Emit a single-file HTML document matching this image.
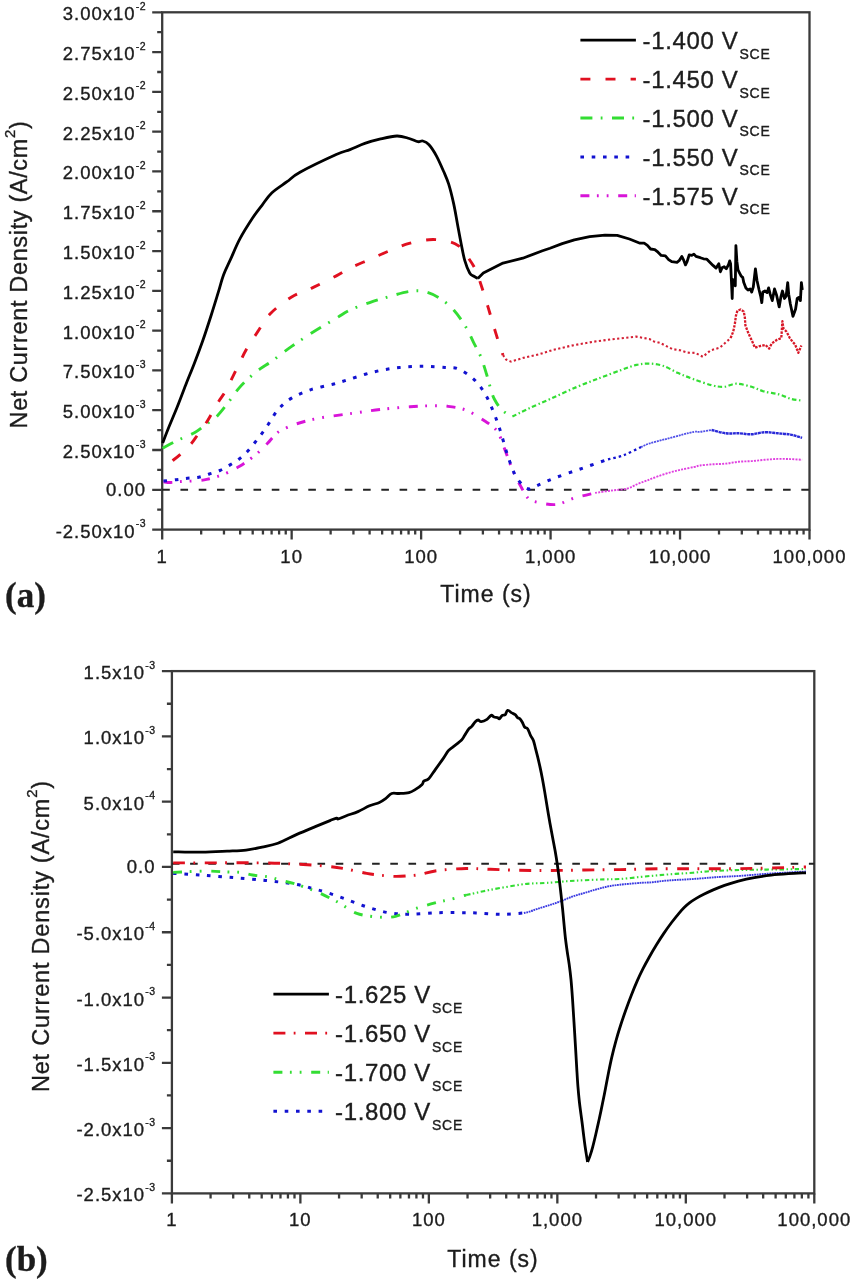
<!DOCTYPE html>
<html><head><meta charset="utf-8"><style>
html,body{margin:0;padding:0;background:#fff;}
svg{display:block;will-change:transform;}
text{font-family:"Liberation Sans", sans-serif;fill:#1c1c1c;stroke:#1c1c1c;stroke-width:0.35px;}
</style></head><body>
<svg width="851" height="1280" viewBox="0 0 851 1280">
<rect width="851" height="1280" fill="#fff"/>
<rect x="162.20" y="12.30" width="647.30" height="517.30" fill="none" stroke="#3a3a3a" stroke-width="2.3"/>
<path d="M152.20 12.30H162.20 M152.20 52.09H162.20 M152.20 91.88H162.20 M152.20 131.68H162.20 M152.20 171.47H162.20 M152.20 211.26H162.20 M152.20 251.05H162.20 M152.20 290.85H162.20 M152.20 330.64H162.20 M152.20 370.43H162.20 M152.20 410.22H162.20 M152.20 450.02H162.20 M152.20 489.81H162.20 M152.20 529.60H162.20 M157.20 32.20H162.20 M157.20 71.99H162.20 M157.20 111.78H162.20 M157.20 151.57H162.20 M157.20 191.37H162.20 M157.20 231.16H162.20 M157.20 270.95H162.20 M157.20 310.74H162.20 M157.20 350.53H162.20 M157.20 390.33H162.20 M157.20 430.12H162.20 M157.20 469.91H162.20 M157.20 509.70H162.20 M162.20 529.60V539.60 M201.17 529.60V534.60 M223.97 529.60V534.60 M240.14 529.60V534.60 M252.69 529.60V534.60 M262.94 529.60V534.60 M271.61 529.60V534.60 M279.11 529.60V534.60 M285.74 529.60V534.60 M291.66 529.60V539.60 M330.63 529.60V534.60 M353.43 529.60V534.60 M369.60 529.60V534.60 M382.15 529.60V534.60 M392.40 529.60V534.60 M401.07 529.60V534.60 M408.57 529.60V534.60 M415.20 529.60V534.60 M421.12 529.60V539.60 M460.09 529.60V534.60 M482.89 529.60V534.60 M499.06 529.60V534.60 M511.61 529.60V534.60 M521.86 529.60V534.60 M530.53 529.60V534.60 M538.03 529.60V534.60 M544.66 529.60V534.60 M550.58 529.60V539.60 M589.55 529.60V534.60 M612.35 529.60V534.60 M628.52 529.60V534.60 M641.07 529.60V534.60 M651.32 529.60V534.60 M659.99 529.60V534.60 M667.49 529.60V534.60 M674.12 529.60V534.60 M680.04 529.60V539.60 M719.01 529.60V534.60 M741.81 529.60V534.60 M757.98 529.60V534.60 M770.53 529.60V534.60 M780.78 529.60V534.60 M789.45 529.60V534.60 M796.95 529.60V534.60 M803.58 529.60V534.60 M809.50 529.60V539.60" stroke="#3a3a3a" stroke-width="2.3" fill="none"/>
<text x="162.20" y="562.5" text-anchor="middle" font-size="18.5" letter-spacing="1.0">1</text>
<text x="291.66" y="562.5" text-anchor="middle" font-size="18.5" letter-spacing="1.0">10</text>
<text x="421.12" y="562.5" text-anchor="middle" font-size="18.5" letter-spacing="1.0">100</text>
<text x="550.58" y="562.5" text-anchor="middle" font-size="18.5" letter-spacing="1.0">1,000</text>
<text x="680.04" y="562.5" text-anchor="middle" font-size="18.5" letter-spacing="1.0">10,000</text>
<text x="809.50" y="562.5" text-anchor="middle" font-size="18.5" letter-spacing="1.0">100,000</text>
<text x="146" y="20.30" text-anchor="end" font-size="18.5" letter-spacing="1.0">3.00x10<tspan font-size="10.5" dy="-10.5" letter-spacing="0.5">-2</tspan></text>
<text x="146" y="60.09" text-anchor="end" font-size="18.5" letter-spacing="1.0">2.75x10<tspan font-size="10.5" dy="-10.5" letter-spacing="0.5">-2</tspan></text>
<text x="146" y="99.88" text-anchor="end" font-size="18.5" letter-spacing="1.0">2.50x10<tspan font-size="10.5" dy="-10.5" letter-spacing="0.5">-2</tspan></text>
<text x="146" y="139.68" text-anchor="end" font-size="18.5" letter-spacing="1.0">2.25x10<tspan font-size="10.5" dy="-10.5" letter-spacing="0.5">-2</tspan></text>
<text x="146" y="179.47" text-anchor="end" font-size="18.5" letter-spacing="1.0">2.00x10<tspan font-size="10.5" dy="-10.5" letter-spacing="0.5">-2</tspan></text>
<text x="146" y="219.26" text-anchor="end" font-size="18.5" letter-spacing="1.0">1.75x10<tspan font-size="10.5" dy="-10.5" letter-spacing="0.5">-2</tspan></text>
<text x="146" y="259.05" text-anchor="end" font-size="18.5" letter-spacing="1.0">1.50x10<tspan font-size="10.5" dy="-10.5" letter-spacing="0.5">-2</tspan></text>
<text x="146" y="298.85" text-anchor="end" font-size="18.5" letter-spacing="1.0">1.25x10<tspan font-size="10.5" dy="-10.5" letter-spacing="0.5">-2</tspan></text>
<text x="146" y="338.64" text-anchor="end" font-size="18.5" letter-spacing="1.0">1.00x10<tspan font-size="10.5" dy="-10.5" letter-spacing="0.5">-2</tspan></text>
<text x="146" y="378.43" text-anchor="end" font-size="18.5" letter-spacing="1.0">7.50x10<tspan font-size="10.5" dy="-10.5" letter-spacing="0.5">-3</tspan></text>
<text x="146" y="418.22" text-anchor="end" font-size="18.5" letter-spacing="1.0">5.00x10<tspan font-size="10.5" dy="-10.5" letter-spacing="0.5">-3</tspan></text>
<text x="146" y="458.02" text-anchor="end" font-size="18.5" letter-spacing="1.0">2.50x10<tspan font-size="10.5" dy="-10.5" letter-spacing="0.5">-3</tspan></text>
<text x="146" y="496.31" text-anchor="end" font-size="18.5" letter-spacing="1.0">0.00</text>
<text x="146" y="537.60" text-anchor="end" font-size="18.5" letter-spacing="1.0">-2.50x10<tspan font-size="10.5" dy="-10.5" letter-spacing="0.5">-3</tspan></text>
<rect x="171.90" y="671.10" width="642.40" height="522.30" fill="none" stroke="#3a3a3a" stroke-width="2.3"/>
<path d="M161.90 671.10H171.90 M161.90 736.39H171.90 M161.90 801.68H171.90 M161.90 866.96H171.90 M161.90 932.25H171.90 M161.90 997.54H171.90 M161.90 1062.83H171.90 M161.90 1128.11H171.90 M161.90 1193.40H171.90 M166.90 703.74H171.90 M166.90 769.03H171.90 M166.90 834.32H171.90 M166.90 899.61H171.90 M166.90 964.89H171.90 M166.90 1030.18H171.90 M166.90 1095.47H171.90 M166.90 1160.76H171.90 M171.90 1193.40V1203.40 M210.58 1193.40V1198.40 M233.20 1193.40V1198.40 M249.25 1193.40V1198.40 M261.70 1193.40V1198.40 M271.88 1193.40V1198.40 M280.48 1193.40V1198.40 M287.93 1193.40V1198.40 M294.50 1193.40V1198.40 M300.38 1193.40V1203.40 M339.06 1193.40V1198.40 M361.68 1193.40V1198.40 M377.73 1193.40V1198.40 M390.18 1193.40V1198.40 M400.36 1193.40V1198.40 M408.96 1193.40V1198.40 M416.41 1193.40V1198.40 M422.98 1193.40V1198.40 M428.86 1193.40V1203.40 M467.54 1193.40V1198.40 M490.16 1193.40V1198.40 M506.21 1193.40V1198.40 M518.66 1193.40V1198.40 M528.84 1193.40V1198.40 M537.44 1193.40V1198.40 M544.89 1193.40V1198.40 M551.46 1193.40V1198.40 M557.34 1193.40V1203.40 M596.02 1193.40V1198.40 M618.64 1193.40V1198.40 M634.69 1193.40V1198.40 M647.14 1193.40V1198.40 M657.32 1193.40V1198.40 M665.92 1193.40V1198.40 M673.37 1193.40V1198.40 M679.94 1193.40V1198.40 M685.82 1193.40V1203.40 M724.50 1193.40V1198.40 M747.12 1193.40V1198.40 M763.17 1193.40V1198.40 M775.62 1193.40V1198.40 M785.80 1193.40V1198.40 M794.40 1193.40V1198.40 M801.85 1193.40V1198.40 M808.42 1193.40V1198.40 M814.30 1193.40V1203.40" stroke="#3a3a3a" stroke-width="2.3" fill="none"/>
<text x="171.90" y="1226.4" text-anchor="middle" font-size="18.5" letter-spacing="1.0">1</text>
<text x="300.38" y="1226.4" text-anchor="middle" font-size="18.5" letter-spacing="1.0">10</text>
<text x="428.86" y="1226.4" text-anchor="middle" font-size="18.5" letter-spacing="1.0">100</text>
<text x="557.34" y="1226.4" text-anchor="middle" font-size="18.5" letter-spacing="1.0">1,000</text>
<text x="685.82" y="1226.4" text-anchor="middle" font-size="18.5" letter-spacing="1.0">10,000</text>
<text x="814.30" y="1226.4" text-anchor="middle" font-size="18.5" letter-spacing="1.0">100,000</text>
<text x="155.5" y="679.10" text-anchor="end" font-size="18.5" letter-spacing="1.0">1.5x10<tspan font-size="10.5" dy="-10.5" letter-spacing="0.5">-3</tspan></text>
<text x="155.5" y="744.39" text-anchor="end" font-size="18.5" letter-spacing="1.0">1.0x10<tspan font-size="10.5" dy="-10.5" letter-spacing="0.5">-3</tspan></text>
<text x="155.5" y="809.68" text-anchor="end" font-size="18.5" letter-spacing="1.0">5.0x10<tspan font-size="10.5" dy="-10.5" letter-spacing="0.5">-4</tspan></text>
<text x="155.5" y="873.46" text-anchor="end" font-size="18.5" letter-spacing="1.0">0.0</text>
<text x="155.5" y="940.25" text-anchor="end" font-size="18.5" letter-spacing="1.0">-5.0x10<tspan font-size="10.5" dy="-10.5" letter-spacing="0.5">-4</tspan></text>
<text x="155.5" y="1005.54" text-anchor="end" font-size="18.5" letter-spacing="1.0">-1.0x10<tspan font-size="10.5" dy="-10.5" letter-spacing="0.5">-3</tspan></text>
<text x="155.5" y="1070.83" text-anchor="end" font-size="18.5" letter-spacing="1.0">-1.5x10<tspan font-size="10.5" dy="-10.5" letter-spacing="0.5">-3</tspan></text>
<text x="155.5" y="1136.11" text-anchor="end" font-size="18.5" letter-spacing="1.0">-2.0x10<tspan font-size="10.5" dy="-10.5" letter-spacing="0.5">-3</tspan></text>
<text x="155.5" y="1201.40" text-anchor="end" font-size="18.5" letter-spacing="1.0">-2.5x10<tspan font-size="10.5" dy="-10.5" letter-spacing="0.5">-3</tspan></text>
<line x1="162.2" y1="489.81" x2="809.5" y2="489.81" stroke="#222" stroke-width="2.1" stroke-dasharray="7.6,10.66"/>
<line x1="171.9" y1="863.70" x2="814.3" y2="863.70" stroke="#222" stroke-width="2.1" stroke-dasharray="7.6,10.6"/>
<path d="M163.50 481.80 C164.67 481.92 167.57 482.55 170.50 482.50 C173.43 482.45 177.68 481.73 181.10 481.50 C184.52 481.27 187.35 481.33 191.00 481.10 C194.65 480.87 200.07 480.45 203.00 480.10 C205.93 479.75 206.02 479.67 208.60 479.00 C211.18 478.33 215.33 477.17 218.50 476.10 C221.67 475.03 224.08 474.23 227.60 472.60 C231.12 470.97 235.72 468.65 239.60 466.30 C243.48 463.95 247.73 460.85 250.90 458.50 C254.07 456.15 255.78 454.78 258.60 452.20 C261.42 449.62 265.33 445.58 267.80 443.00 C270.27 440.42 271.38 438.70 273.40 436.70 C275.42 434.70 276.08 433.13 279.90 431.00 C283.72 428.87 289.65 426.07 296.30 423.90 C302.95 421.73 310.40 419.77 319.80 418.00 C329.20 416.23 342.67 414.72 352.70 413.30 C362.73 411.88 370.45 410.58 380.00 409.50 C389.55 408.42 401.67 407.42 410.00 406.80 C418.33 406.18 423.70 405.88 430.00 405.80 C436.30 405.72 441.82 405.58 447.80 406.30 C453.78 407.02 459.87 407.73 465.90 410.10 C471.93 412.47 478.83 417.05 484.00 420.50 C489.17 423.95 493.47 426.07 496.90 430.80 C500.33 435.53 502.02 442.43 504.60 448.90 C507.18 455.37 509.82 463.57 512.40 469.60 C514.98 475.63 517.52 480.37 520.10 485.10 C522.68 489.83 525.30 495.20 527.90 498.00 C530.50 500.80 530.97 500.82 535.70 501.90 C540.43 502.98 549.85 505.15 556.30 504.50 C562.75 503.85 567.93 499.93 574.40 498.00 C580.87 496.07 591.65 493.75 595.10 492.90" fill="none" stroke="#d814d8" stroke-width="2.9" stroke-dasharray="9,7.5,1.8,8,1.8,9.7" stroke-linecap="butt" stroke-linejoin="round"/>
<path d="M595.10 492.90 C597.88 492.50 606.48 491.20 611.80 490.50 C617.12 489.80 622.70 489.78 627.00 488.70 C631.30 487.62 634.27 485.37 637.60 484.00 C640.93 482.63 643.67 481.77 647.00 480.50 C650.33 479.23 653.68 477.77 657.60 476.40 C661.52 475.03 666.38 473.47 670.50 472.30 C674.62 471.13 678.38 470.28 682.30 469.40 C686.22 468.52 691.05 467.65 694.00 467.00 C696.95 466.35 696.85 465.95 700.00 465.50 C703.15 465.05 708.58 464.62 712.90 464.30 C717.22 463.98 721.58 464.03 725.90 463.60 C730.22 463.17 734.50 462.12 738.80 461.70 C743.10 461.28 747.40 461.42 751.70 461.10 C756.00 460.78 760.28 460.17 764.60 459.80 C768.92 459.43 773.28 459.02 777.60 458.90 C781.92 458.78 786.42 458.95 790.50 459.10 C794.58 459.25 800.17 459.68 802.10 459.80" fill="none" stroke="#e040e0" stroke-width="1.9" stroke-dasharray="2,1.2" stroke-linecap="butt" stroke-linejoin="round"/>
<path d="M163.50 481.10 C165.62 480.87 172.22 480.17 176.20 479.70 C180.18 479.23 183.65 478.70 187.40 478.30 C191.15 477.90 195.05 478.02 198.70 477.30 C202.35 476.58 205.77 475.13 209.30 474.00 C212.83 472.87 216.50 471.98 219.90 470.50 C223.30 469.02 226.53 466.98 229.70 465.10 C232.87 463.22 235.95 461.47 238.90 459.20 C241.85 456.93 244.70 454.32 247.40 451.50 C250.10 448.68 252.63 445.37 255.10 442.30 C257.57 439.23 259.97 436.15 262.20 433.10 C264.43 430.05 266.50 427.05 268.50 424.00 C270.50 420.95 272.30 417.55 274.20 414.80 C276.10 412.05 277.00 410.28 279.90 407.50 C282.80 404.72 286.52 401.05 291.60 398.10 C296.68 395.15 303.35 392.15 310.40 389.80 C317.45 387.45 327.30 385.78 333.90 384.00 C340.50 382.22 343.20 381.15 350.00 379.10 C356.80 377.05 366.47 373.63 374.70 371.70 C382.93 369.77 391.18 368.40 399.40 367.50 C407.62 366.60 416.37 366.30 424.00 366.30 C431.63 366.30 439.52 367.08 445.20 367.50 C450.88 367.92 453.37 366.87 458.10 368.80 C462.83 370.73 469.28 375.23 473.60 379.10 C477.92 382.97 480.98 387.25 484.00 392.00 C487.02 396.75 489.12 401.57 491.70 407.60 C494.28 413.63 496.92 420.45 499.50 428.20 C502.08 435.95 504.62 446.33 507.20 454.10 C509.78 461.87 512.42 469.63 515.00 474.80 C517.58 479.97 520.33 482.73 522.70 485.10 C525.07 487.47 526.62 489.00 529.20 489.00 C531.78 489.00 533.68 487.03 538.20 485.10 C542.72 483.17 548.97 480.20 556.30 477.40 C563.63 474.60 573.58 471.32 582.20 468.30 C590.82 465.28 603.70 460.80 608.00 459.30" fill="none" stroke="#1212d0" stroke-width="3.0" stroke-dasharray="3.6,7.7" stroke-linecap="butt" stroke-linejoin="round"/>
<path d="M608.00 459.30 C610.58 458.63 617.98 457.35 623.50 455.30 C629.02 453.25 638.17 448.38 641.10 447.00" fill="none" stroke="#1212d0" stroke-width="2.3" stroke-dasharray="2.5,3" stroke-linecap="butt" stroke-linejoin="round"/>
<path d="M641.10 447.00 C642.48 446.42 645.48 444.77 649.40 443.50 C653.32 442.23 659.12 440.87 664.60 439.40 C670.08 437.93 677.40 435.97 682.30 434.70 C687.20 433.43 691.05 432.28 694.00 431.80 C696.95 431.32 697.07 432.10 700.00 431.80 C702.93 431.50 709.67 430.30 711.60 430.00" fill="none" stroke="#5050e8" stroke-width="1.8" stroke-dasharray="2,0.8" stroke-linecap="butt" stroke-linejoin="round"/>
<path d="M711.60 430.00 C713.98 430.55 721.37 432.75 725.90 433.30 C730.43 433.85 734.50 433.13 738.80 433.30 C743.10 433.47 747.40 434.48 751.70 434.30 C756.00 434.12 760.28 432.37 764.60 432.20 C768.92 432.03 773.28 432.90 777.60 433.30 C781.92 433.70 786.42 433.85 790.50 434.60 C794.58 435.35 800.17 437.27 802.10 437.80" fill="none" stroke="#2a2ad8" stroke-width="2.4" stroke-dasharray="3,0.6" stroke-linecap="butt" stroke-linejoin="round"/>
<path d="M162.60 448.30 C165.03 447.00 171.90 443.08 177.20 440.50 C182.50 437.92 189.53 435.52 194.40 432.80 C199.27 430.08 202.68 426.92 206.40 424.20 C210.12 421.48 212.98 420.22 216.70 416.50 C220.42 412.78 224.98 406.63 228.70 401.90 C232.42 397.17 235.57 392.12 239.00 388.10 C242.43 384.08 245.85 380.95 249.30 377.80 C252.75 374.65 255.78 372.08 259.70 369.20 C263.62 366.32 267.48 364.30 272.80 360.50 C278.12 356.70 284.93 351.10 291.60 346.40 C298.27 341.70 305.35 337.00 312.80 332.30 C320.25 327.60 330.10 321.92 336.30 318.20 C342.50 314.48 344.43 312.60 350.00 310.00 C355.57 307.40 363.12 304.85 369.70 302.60 C376.28 300.35 382.92 298.35 389.50 296.50 C396.08 294.65 403.45 292.33 409.20 291.50 C414.95 290.67 419.07 290.47 424.00 291.50 C428.93 292.53 433.85 294.62 438.80 297.70 C443.75 300.78 449.17 305.07 453.70 310.00 C458.23 314.93 462.72 321.95 466.00 327.30 C469.28 332.65 470.93 337.17 473.40 342.10 C475.87 347.03 478.62 351.58 480.80 356.90 C482.98 362.22 484.85 368.65 486.50 374.00 C488.15 379.35 489.40 384.83 490.70 389.00 C492.00 393.17 492.42 395.48 494.30 399.00 C496.18 402.52 498.98 407.17 502.00 410.10 C505.02 413.03 510.67 415.52 512.40 416.60" fill="none" stroke="#33dd33" stroke-width="2.9" stroke-dasharray="12,8.3,1.8,9.5" stroke-linecap="butt" stroke-linejoin="round"/>
<path d="M512.40 416.60 C514.98 415.32 521.43 411.92 527.90 408.90 C534.37 405.88 543.02 402.17 551.20 398.50 C559.38 394.83 568.82 390.35 577.00 386.90 C585.18 383.45 592.97 380.60 600.30 377.80 C607.63 375.00 614.97 372.25 621.00 370.10 C627.03 367.95 631.77 365.98 636.50 364.90 C641.23 363.82 644.98 363.45 649.40 363.60 C653.82 363.75 658.18 364.22 663.00 365.80 C667.82 367.38 673.20 370.87 678.30 373.10 C683.40 375.33 688.00 377.17 693.60 379.20 C699.20 381.23 706.80 384.03 711.90 385.30 C717.00 386.57 720.12 387.07 724.20 386.80 C728.28 386.53 731.83 383.70 736.40 383.70 C740.97 383.70 747.02 385.52 751.60 386.80 C756.18 388.08 759.32 390.13 763.90 391.40 C768.48 392.67 774.52 393.13 779.10 394.40 C783.68 395.67 787.57 397.97 791.40 399.00 C795.23 400.03 800.32 400.33 802.10 400.60" fill="none" stroke="#33dd33" stroke-width="2.2" stroke-dasharray="4.5,2.5,1.5,2.5" stroke-linecap="butt" stroke-linejoin="round"/>
<path d="M172.60 460.60 C173.90 459.55 177.35 457.07 180.40 454.30 C183.45 451.53 188.00 447.30 190.90 444.00 C193.80 440.70 195.22 438.08 197.80 434.50 C200.38 430.92 204.12 425.93 206.40 422.50 C208.68 419.07 209.50 417.33 211.50 413.90 C213.50 410.47 216.10 405.62 218.40 401.90 C220.70 398.18 223.00 395.62 225.30 391.60 C227.60 387.58 229.92 382.38 232.20 377.80 C234.48 373.22 236.72 368.68 239.00 364.10 C241.28 359.52 242.75 355.75 245.90 350.30 C249.05 344.85 253.80 337.53 257.90 331.40 C262.00 325.27 264.88 319.23 270.50 313.50 C276.12 307.77 284.55 301.32 291.60 297.00 C298.65 292.68 305.35 291.12 312.80 287.60 C320.25 284.08 330.10 279.15 336.30 275.90 C342.50 272.65 344.43 270.85 350.00 268.10 C355.57 265.35 363.12 262.28 369.70 259.40 C376.28 256.52 382.92 253.47 389.50 250.80 C396.08 248.13 402.62 245.25 409.20 243.40 C415.78 241.55 422.83 240.12 429.00 239.70 C435.17 239.28 441.27 239.87 446.20 240.90 C451.13 241.93 454.88 243.02 458.60 245.90 C462.32 248.78 465.62 254.10 468.50 258.20 C471.38 262.30 473.65 265.57 475.90 270.50 C478.15 275.43 479.95 281.62 482.00 287.80 C484.05 293.98 486.42 301.77 488.20 307.60 C489.98 313.43 491.02 317.20 492.70 322.80 C494.38 328.40 496.58 335.83 498.30 341.20 C500.02 346.57 502.22 352.70 503.00 355.00" fill="none" stroke="#e01020" stroke-width="2.9" stroke-dasharray="10,15.1" stroke-linecap="butt" stroke-linejoin="round"/>
<path d="M503.00 355.00 L506.00 359.50 L511.00 361.60 L518.00 359.50 L525.00 357.40 L539.20 354.30 L553.30 349.80 L571.70 345.60 L592.80 341.80 L611.10 339.40 L636.00 336.60 L649.40 339.00 L653.90 341.40 L660.00 342.90 L672.20 349.00 L680.00 350.30 L687.60 352.60 L695.30 352.90 L702.90 356.80 L710.60 350.30 L720.00 347.60 L725.30 342.80 L730.60 338.10" fill="none" stroke="#d42035" stroke-width="2.1" stroke-dasharray="2.2,2.4" stroke-linecap="butt" stroke-linejoin="round"/>
<path d="M730.60 338.10 L733.20 331.70 L734.80 324.30 L735.90 315.90 L737.40 310.60 L740.60 309.50 L743.80 311.60 L744.90 318.00 L745.40 325.40 L748.60 333.80 L751.70 340.20 L754.90 347.60 L760.20 346.00 L765.50 344.90 L769.20 348.60 L771.80 343.40 L777.10 339.70 L781.30 338.10 L782.40 321.20 L783.50 328.60 L786.60 331.70 L789.80 338.10 L793.00 342.30 L795.10 344.40 L798.30 352.90 L801.40 345.50" fill="none" stroke="#d81828" stroke-width="2.3" stroke-dasharray="2.5,1.2" stroke-linecap="butt" stroke-linejoin="round"/>
<path d="M162.60 443.10 C163.60 440.53 166.17 433.72 168.60 427.70 C171.03 421.68 174.33 414.17 177.20 407.00 C180.07 399.83 182.93 392.00 185.80 384.70 C188.67 377.40 191.53 370.65 194.40 363.20 C197.27 355.75 200.15 348.17 203.00 340.00 C205.85 331.83 208.93 322.22 211.50 314.20 C214.07 306.18 216.38 298.48 218.40 291.90 C220.42 285.32 221.58 280.12 223.60 274.70 C225.62 269.28 227.77 265.40 230.50 259.40 C233.23 253.40 236.27 245.67 240.00 238.70 C243.73 231.73 249.23 223.17 252.90 217.60 C256.57 212.03 258.87 209.42 262.00 205.30 C265.13 201.18 267.53 196.83 271.70 192.90 C275.87 188.97 282.28 185.13 287.00 181.70 C291.72 178.27 291.80 176.82 300.00 172.30 C308.20 167.78 327.87 158.38 336.20 154.60 C344.53 150.82 345.23 151.47 350.00 149.60 C354.77 147.73 359.87 145.13 364.80 143.40 C369.73 141.67 374.25 140.43 379.60 139.20 C384.95 137.97 391.97 136.12 396.90 136.00 C401.83 135.88 405.70 137.55 409.20 138.50 C412.70 139.45 415.63 141.28 417.90 141.70 C420.17 142.12 420.95 140.50 422.80 141.00 C424.65 141.50 426.73 142.23 429.00 144.70 C431.27 147.17 433.93 151.28 436.40 155.80 C438.87 160.32 441.75 167.07 443.80 171.80 C445.85 176.53 447.05 178.85 448.70 184.20 C450.35 189.55 452.25 197.32 453.70 203.90 C455.15 210.48 456.17 217.12 457.40 223.70 C458.63 230.28 459.87 237.23 461.10 243.40 C462.33 249.57 463.37 255.77 464.80 260.70 C466.23 265.63 468.27 270.45 469.70 273.00 C471.13 275.55 472.05 275.10 473.40 276.00 C474.75 276.90 477.07 278.00 477.80 278.40" fill="none" stroke="#000" stroke-width="2.8" stroke-linecap="butt" stroke-linejoin="round"/>
<path d="M477.80 278.40 L483.30 273.00 L490.70 269.30 L503.00 263.10 L522.80 258.20 L542.50 250.80 L550.00 248.20 L562.20 243.60 L574.40 239.90 L589.70 236.60 L605.00 235.10 L617.20 235.40 L629.40 239.00 L640.00 243.20 L644.20 243.20 L647.40 245.30 L650.60 249.00 L654.80 249.60 L658.00 252.20 L661.20 255.40 L665.40 255.90 L668.60 259.60 L671.70 261.70 L677.00 262.30 L679.10 260.70 L681.80 256.40 L683.40 259.60 L685.50 264.90 L687.10 261.70 L689.20 254.90 L691.80 255.40 L693.90 254.10 L696.00 256.40 L700.30 257.70 L703.50 258.80 L706.60 259.10 L709.80 262.30 L713.00 265.40 L716.10 268.10 L718.80 263.80 L720.40 271.80 L722.10 267.80 L724.20 266.70 L726.30 268.80 L728.50 264.60 L729.70 260.90 L730.60 263.60 L731.40 280.50 L732.20 298.50 L732.70 279.40 L733.70 284.70 L734.80 281.50 L735.30 285.80 L735.90 245.60 L736.90 261.40 L738.00 269.90 L739.60 273.10 L741.20 276.20 L742.70 277.30 L743.80 282.60 L745.90 287.90 L748.00 290.00 L750.10 288.90 L751.70 292.10 L753.30 286.80 L755.40 268.80 L757.00 280.50 L759.10 290.00 L760.70 296.30 L761.80 302.70 L762.80 292.10 L764.90 291.00 L767.10 292.60 L768.60 287.90 L770.20 294.20 L772.30 300.60 L774.50 288.90 L776.60 295.30 L779.20 306.90 L780.80 297.40 L782.40 291.00 L784.50 298.50 L786.10 296.30 L787.70 282.60 L788.70 294.20 L790.30 303.70 L793.00 316.40 L795.60 309.00 L797.20 298.50 L798.80 297.40 L800.40 300.60 L801.40 282.60 L802.30 290.00" fill="none" stroke="#000" stroke-width="2.8" stroke-linecap="butt" stroke-linejoin="round"/>
<path d="M173.20 873.40 C177.95 873.70 191.65 874.50 201.70 875.20 C211.75 875.90 222.92 876.73 233.50 877.60 C244.08 878.47 255.68 879.42 265.20 880.40 C274.72 881.38 284.13 882.57 290.60 883.50 C297.07 884.43 300.30 885.15 304.00 886.00 C307.70 886.85 309.28 887.62 312.80 888.60 C316.32 889.58 319.53 890.12 325.10 891.90 C330.67 893.68 339.15 896.77 346.20 899.30 C353.25 901.83 360.35 904.87 367.40 907.10 C374.45 909.33 381.45 911.52 388.50 912.70 C395.55 913.88 401.47 914.20 409.70 914.20 C417.93 914.20 428.50 912.95 437.90 912.70 C447.30 912.45 459.73 912.65 466.10 912.70 C472.47 912.75 470.08 912.73 476.10 913.00 C482.12 913.27 494.23 914.30 502.20 914.30 C510.17 914.30 520.28 913.22 523.90 913.00" fill="none" stroke="#1212d0" stroke-width="3.0" stroke-dasharray="3.6,7.7" stroke-linecap="butt" stroke-linejoin="round"/>
<path d="M523.90 913.00 C524.82 912.78 527.12 912.40 529.40 911.70 C531.68 911.00 534.27 909.88 537.60 908.80 C540.93 907.72 545.48 906.48 549.40 905.20 C553.32 903.92 557.18 902.57 561.10 901.10 C565.02 899.63 568.98 897.77 572.90 896.40 C576.82 895.03 580.68 894.07 584.60 892.90 C588.52 891.73 592.48 890.48 596.40 889.40 C600.32 888.32 604.17 887.18 608.10 886.40 C612.03 885.62 614.68 885.28 620.00 884.70 C625.32 884.12 634.70 883.30 640.00 882.90 C645.30 882.50 647.88 882.63 651.80 882.30 C655.72 881.97 659.58 881.28 663.50 880.90 C667.42 880.52 671.38 880.25 675.30 880.00 C679.22 879.75 683.08 879.63 687.00 879.40 C690.92 879.17 694.88 878.90 698.80 878.60 C702.72 878.30 706.58 877.90 710.50 877.60 C714.42 877.30 717.38 877.08 722.30 876.80 C727.22 876.52 732.57 876.40 740.00 875.90 C747.43 875.40 758.90 874.37 766.90 873.80 C774.90 873.23 781.48 872.88 788.00 872.50 C794.52 872.12 803.00 871.67 806.00 871.50" fill="none" stroke="#3a3ae2" stroke-width="1.9" stroke-dasharray="1.8,0.7" stroke-linecap="butt" stroke-linejoin="round"/>
<path d="M173.20 872.40 C178.53 872.18 196.22 871.17 205.20 871.10 C214.18 871.03 221.22 871.78 227.10 872.00 C232.98 872.22 236.27 871.90 240.50 872.40 C244.73 872.90 247.80 874.25 252.50 875.00 C257.20 875.75 263.95 876.00 268.70 876.90 C273.45 877.80 276.88 879.32 281.00 880.40 C285.12 881.48 289.70 882.35 293.40 883.40 C297.10 884.45 299.10 885.22 303.20 886.70 C307.30 888.18 312.00 889.60 318.00 892.30 C324.00 895.00 332.73 899.38 339.20 902.90 C345.67 906.42 350.33 911.05 356.80 913.40 C363.27 915.75 371.53 916.52 378.00 917.00 C384.47 917.48 389.15 917.77 395.60 916.30 C402.05 914.83 409.65 910.55 416.70 908.20 C423.75 905.85 432.35 903.65 437.90 902.20 C443.45 900.75 445.30 900.68 450.00 899.50 C454.70 898.32 463.42 895.83 466.10 895.10" fill="none" stroke="#33dd33" stroke-width="2.9" stroke-dasharray="9,7.5,1.8,8,1.8,9.7" stroke-linecap="butt" stroke-linejoin="round"/>
<path d="M466.10 895.10 C470.17 894.22 481.52 891.53 490.50 889.80 C499.48 888.07 513.12 885.75 520.00 884.70 C526.88 883.65 527.30 883.80 531.80 883.50 C536.30 883.20 541.13 883.28 547.00 882.90 C552.87 882.52 560.73 881.65 567.00 881.20 C573.27 880.75 578.33 880.50 584.60 880.20 C590.87 879.90 598.70 879.60 604.60 879.40 C610.50 879.20 614.10 879.40 620.00 879.00 C625.90 878.60 633.73 877.62 640.00 877.00 C646.27 876.38 651.72 875.82 657.60 875.30 C663.48 874.78 669.42 874.33 675.30 873.90 C681.18 873.47 687.03 873.15 692.90 872.70 C698.77 872.25 702.65 871.65 710.50 871.20 C718.35 870.75 730.60 870.27 740.00 870.00 C749.40 869.73 755.90 869.77 766.90 869.60 C777.90 869.43 799.48 869.10 806.00 869.00" fill="none" stroke="#33dd33" stroke-width="2.1" stroke-dasharray="4.5,2.5,1.5,2.5,1.5,2.5" stroke-linecap="butt" stroke-linejoin="round"/>
<path d="M173.20 862.90 C188.53 862.90 245.17 862.70 265.20 862.90 C285.23 863.10 287.07 863.83 293.40 864.10 C299.73 864.37 297.33 864.12 303.20 864.50 C309.07 864.88 321.18 865.60 328.60 866.40 C336.02 867.20 341.35 868.13 347.70 869.30 C354.05 870.47 361.32 872.42 366.70 873.40 C372.08 874.38 375.18 874.70 380.00 875.20 C384.82 875.70 390.42 876.33 395.60 876.40 C400.78 876.47 407.03 875.92 411.10 875.60 C415.17 875.28 415.53 875.35 420.00 874.50 C424.47 873.65 430.22 871.50 437.90 870.50 C445.58 869.50 457.33 868.70 466.10 868.50 C474.87 868.30 481.73 869.00 490.50 869.30 C499.27 869.60 510.08 870.10 518.70 870.30 C527.32 870.50 535.15 870.48 542.20 870.50 C549.25 870.52 553.95 870.48 561.00 870.40 C568.05 870.32 574.67 870.13 584.50 870.00 C594.33 869.87 607.42 869.80 620.00 869.60 C632.58 869.40 640.00 868.97 660.00 868.80 C680.00 868.63 715.67 868.90 740.00 868.60 C764.33 868.30 795.00 867.27 806.00 867.00" fill="none" stroke="#e01020" stroke-width="2.9" stroke-dasharray="12,8.3,1.8,9.5" stroke-linecap="butt" stroke-linejoin="round"/>
<path d="M173.20 851.80 C177.95 851.87 192.72 852.30 201.70 852.20 C210.68 852.10 219.70 851.55 227.10 851.20 C234.50 850.85 240.28 850.78 246.10 850.10 C251.92 849.42 256.70 848.25 262.00 847.10 C267.30 845.95 272.08 845.32 277.90 843.20 C283.72 841.08 290.57 837.20 296.90 834.40 C303.23 831.60 310.38 828.70 315.90 826.40 C321.42 824.10 326.55 821.98 330.00 820.60 C333.45 819.22 335.23 818.37 336.60 818.10 C337.97 817.83 336.57 819.40 338.20 819.00 C339.83 818.60 343.10 816.93 346.40 815.70 C349.70 814.47 354.15 813.25 358.00 811.60 C361.85 809.95 365.93 807.32 369.50 805.80 C373.07 804.28 376.67 803.73 379.40 802.50 C382.13 801.27 383.85 799.90 385.90 798.40 C387.95 796.90 389.50 794.32 391.70 793.50 C393.90 792.68 396.22 793.65 399.10 793.50 C401.98 793.35 406.27 793.28 409.00 792.60 C411.73 791.92 413.32 790.77 415.50 789.40 C417.68 788.03 420.72 785.78 422.10 784.40 C423.48 783.02 422.70 782.05 423.80 781.10 C424.90 780.15 426.78 780.62 428.70 778.70 C430.62 776.78 432.83 773.03 435.30 769.60 C437.77 766.17 441.32 761.25 443.50 758.10 C445.68 754.95 446.75 752.62 448.40 750.70 C450.05 748.78 451.20 748.38 453.40 746.60 C455.60 744.82 459.72 741.88 461.60 740.00 C463.48 738.12 463.50 737.17 464.70 735.30 C465.90 733.43 467.62 730.28 468.80 728.80 C469.98 727.32 470.72 727.58 471.80 726.40 C472.88 725.22 474.23 722.77 475.30 721.70 C476.37 720.63 477.22 720.00 478.20 720.00 C479.18 720.00 479.73 721.80 481.20 721.70 C482.67 721.60 485.35 720.47 487.00 719.40 C488.65 718.33 489.92 715.70 491.10 715.30 C492.28 714.90 493.02 716.62 494.10 717.00 C495.18 717.38 496.72 717.30 497.60 717.60 C498.48 717.90 498.62 719.18 499.40 718.80 C500.18 718.42 501.33 715.98 502.30 715.30 C503.27 714.62 504.32 715.53 505.20 714.70 C506.08 713.87 506.52 710.60 507.60 710.30 C508.68 710.00 510.43 712.17 511.70 712.90 C512.97 713.63 514.22 713.92 515.20 714.70 C516.18 715.48 516.82 716.92 517.60 717.60 C518.38 718.28 519.12 718.02 519.90 718.80 C520.68 719.58 521.52 720.93 522.30 722.30 C523.08 723.67 523.72 725.92 524.60 727.00 C525.48 728.08 526.62 727.42 527.60 728.80 C528.58 730.18 529.53 733.35 530.50 735.30 C531.47 737.25 532.58 738.37 533.40 740.50 C534.22 742.63 534.72 745.39 535.42 748.09 C536.12 750.79 536.85 753.60 537.61 756.69 C538.36 759.79 539.15 763.06 539.93 766.65 C540.71 770.24 541.51 774.06 542.30 778.23 C543.09 782.39 543.87 786.90 544.67 791.61 C545.47 796.32 546.25 801.42 547.10 806.49 C547.95 811.56 548.84 816.96 549.74 822.04 C550.65 827.13 551.63 832.21 552.52 837.01 C553.42 841.82 554.31 846.23 555.12 850.86 C555.92 855.49 556.65 859.98 557.35 864.78 C558.05 869.58 558.67 874.66 559.29 879.67 C559.91 884.68 560.51 889.82 561.07 894.84 C561.63 899.85 562.17 904.80 562.67 909.75 C563.17 914.70 563.60 919.70 564.07 924.53 C564.54 929.36 564.97 934.21 565.49 938.74 C566.02 943.27 566.62 947.45 567.23 951.73 C567.85 956.00 568.56 959.76 569.19 964.41 C569.82 969.06 570.44 973.81 571.00 979.62 C571.56 985.44 572.04 992.19 572.54 999.28 C573.04 1006.38 573.50 1014.41 573.99 1022.19 C574.47 1029.96 574.98 1038.29 575.44 1045.94 C575.89 1053.59 576.31 1061.28 576.73 1068.08 C577.15 1074.88 577.49 1081.08 577.94 1086.73 C578.38 1092.38 578.88 1097.35 579.39 1101.99 C579.90 1106.63 580.51 1110.68 581.01 1114.56 C581.52 1118.44 581.99 1121.77 582.43 1125.28 C582.88 1128.80 583.25 1132.20 583.68 1135.65 C584.12 1139.10 584.58 1142.77 585.04 1145.97 C585.49 1149.18 585.98 1152.23 586.41 1154.90 C586.83 1157.57 587.40 1160.82 587.60 1162.00" fill="none" stroke="#000" stroke-width="2.8" stroke-linecap="butt" stroke-linejoin="round"/>
<path d="M587.60 1162.00 C587.99 1161.03 589.11 1158.61 589.94 1156.17 C590.78 1153.72 591.64 1150.91 592.60 1147.34 C593.56 1143.76 594.61 1139.32 595.69 1134.71 C596.76 1130.10 597.94 1124.80 599.06 1119.69 C600.17 1114.59 601.32 1109.25 602.38 1104.08 C603.45 1098.92 604.44 1093.82 605.44 1088.68 C606.45 1083.53 607.35 1078.46 608.40 1073.23 C609.45 1068.00 610.50 1062.67 611.75 1057.32 C613.00 1051.96 614.38 1046.45 615.87 1041.07 C617.36 1035.69 619.01 1030.30 620.70 1025.04 C622.38 1019.77 624.19 1014.55 625.99 1009.49 C627.80 1004.43 629.66 999.41 631.52 994.68 C633.37 989.95 635.23 985.42 637.12 981.12 C639.02 976.83 640.89 972.90 642.90 968.91 C644.91 964.93 646.97 961.14 649.18 957.20 C651.39 953.27 653.74 949.25 656.18 945.28 C658.62 941.32 661.25 937.19 663.82 933.39 C666.38 929.60 669.13 925.78 671.58 922.52 C674.03 919.25 676.42 916.29 678.52 913.79 C680.62 911.29 682.36 909.35 684.18 907.53 C686.00 905.71 687.51 904.35 689.45 902.86 C691.39 901.38 693.43 900.05 695.82 898.62 C698.21 897.20 700.89 895.75 703.79 894.29 C706.69 892.82 709.76 891.33 713.22 889.84 C716.67 888.35 720.34 886.82 724.53 885.37 C728.72 883.92 733.41 882.42 738.37 881.12 C743.34 879.82 748.83 878.58 754.30 877.59 C759.78 876.59 765.51 875.79 771.21 875.14 C776.91 874.49 782.70 874.09 788.49 873.70 C794.29 873.30 803.08 872.95 806.00 872.80" fill="none" stroke="#000" stroke-width="2.8" stroke-linecap="butt" stroke-linejoin="round"/>
<line x1="580.4" y1="40.20" x2="635.9" y2="40.20" stroke="#000" stroke-width="2.8"/>
<text x="642.5" y="49.30" font-size="24" letter-spacing="0.65">-1.400 V<tspan font-size="14" dy="9.3" dx="1" letter-spacing="0.8">SCE</tspan></text>
<line x1="580.4" y1="79.10" x2="635.9" y2="79.10" stroke="#e01020" stroke-width="2.9" stroke-dasharray="10,15.1"/>
<text x="642.5" y="88.20" font-size="24" letter-spacing="0.65">-1.450 V<tspan font-size="14" dy="9.3" dx="1" letter-spacing="0.8">SCE</tspan></text>
<line x1="580.4" y1="118.00" x2="635.9" y2="118.00" stroke="#33dd33" stroke-width="2.9" stroke-dasharray="12,8.3,1.8,9.5"/>
<text x="642.5" y="127.10" font-size="24" letter-spacing="0.65">-1.500 V<tspan font-size="14" dy="9.3" dx="1" letter-spacing="0.8">SCE</tspan></text>
<line x1="580.4" y1="156.90" x2="635.9" y2="156.90" stroke="#1212d0" stroke-width="3.0" stroke-dasharray="3.6,7.7"/>
<text x="642.5" y="166.00" font-size="24" letter-spacing="0.65">-1.550 V<tspan font-size="14" dy="9.3" dx="1" letter-spacing="0.8">SCE</tspan></text>
<line x1="580.4" y1="195.80" x2="635.9" y2="195.80" stroke="#d814d8" stroke-width="2.9" stroke-dasharray="9,7.5,1.8,8,1.8,9.7"/>
<text x="642.5" y="204.90" font-size="24" letter-spacing="0.65">-1.575 V<tspan font-size="14" dy="9.3" dx="1" letter-spacing="0.8">SCE</tspan></text>
<line x1="273.4" y1="994.10" x2="328.9" y2="994.10" stroke="#000" stroke-width="2.8"/>
<text x="335" y="1003.20" font-size="24" letter-spacing="0.65">-1.625 V<tspan font-size="14" dy="9.3" dx="1" letter-spacing="0.8">SCE</tspan></text>
<line x1="273.4" y1="1033.15" x2="328.9" y2="1033.15" stroke="#e01020" stroke-width="2.9" stroke-dasharray="12,8.3,1.8,9.5"/>
<text x="335" y="1042.25" font-size="24" letter-spacing="0.65">-1.650 V<tspan font-size="14" dy="9.3" dx="1" letter-spacing="0.8">SCE</tspan></text>
<line x1="273.4" y1="1072.20" x2="328.9" y2="1072.20" stroke="#33dd33" stroke-width="2.9" stroke-dasharray="9,7.5,1.8,8,1.8,9.7"/>
<text x="335" y="1081.30" font-size="24" letter-spacing="0.65">-1.700 V<tspan font-size="14" dy="9.3" dx="1" letter-spacing="0.8">SCE</tspan></text>
<line x1="273.4" y1="1111.25" x2="328.9" y2="1111.25" stroke="#1212d0" stroke-width="3.0" stroke-dasharray="3.6,7.7"/>
<text x="335" y="1120.35" font-size="24" letter-spacing="0.65">-1.800 V<tspan font-size="14" dy="9.3" dx="1" letter-spacing="0.8">SCE</tspan></text>
<text x="486" y="602" text-anchor="middle" font-size="23" letter-spacing="1">Time (s)</text>
<text x="493" y="1267" text-anchor="middle" font-size="23" letter-spacing="1">Time (s)</text>
<text transform="translate(27.3,274.5) rotate(-90)" text-anchor="middle" font-size="23.5" letter-spacing="0.65">Net Current Density (A/cm<tspan font-size="15" dy="-12.5">2</tspan><tspan dy="12.5">)</tspan></text>
<text transform="translate(49,936) rotate(-90)" text-anchor="middle" font-size="23.5" letter-spacing="0.8">Net Current Density (A/cm<tspan font-size="15" dy="-12.5">2</tspan><tspan dy="12.5">)</tspan></text>
<text x="5" y="607" style='font-family:"Liberation Serif", serif;font-weight:bold' font-size="35">(a)</text>
<text x="5" y="1271" style='font-family:"Liberation Serif", serif;font-weight:bold' font-size="35">(b)</text>
</svg>
</body></html>
